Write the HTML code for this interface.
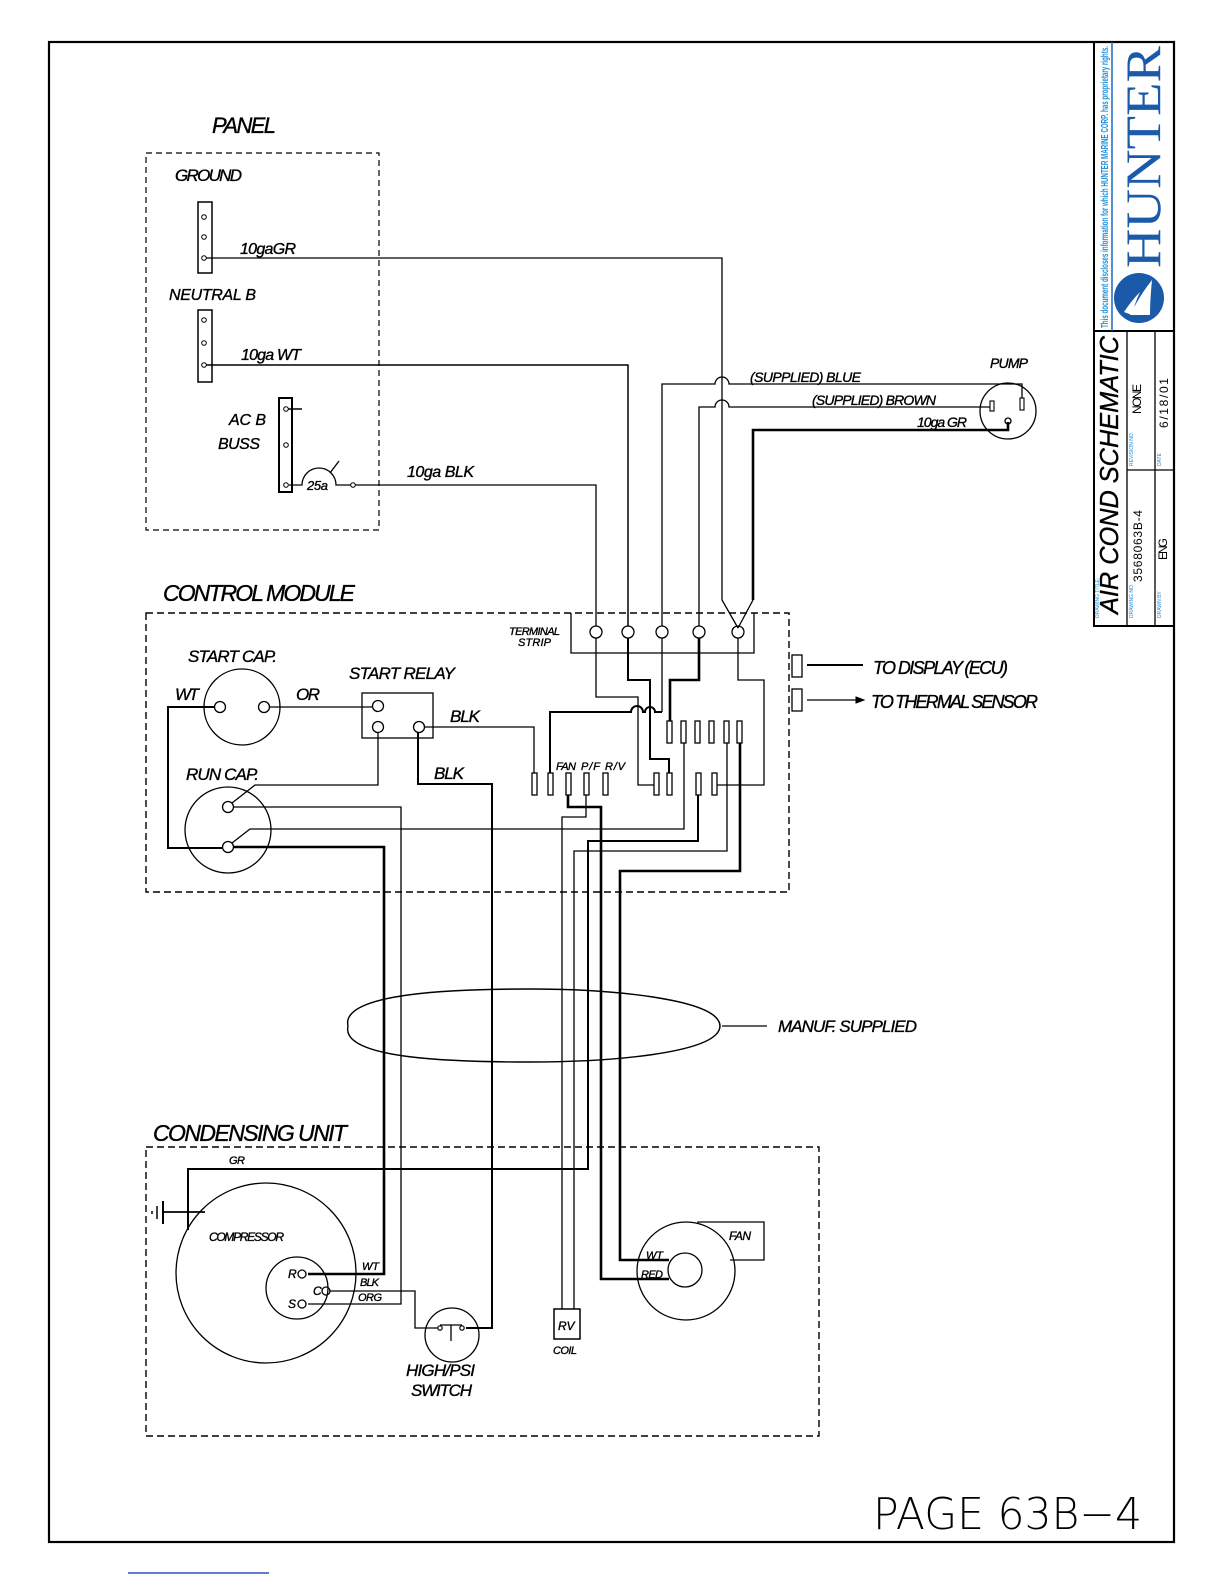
<!DOCTYPE html>
<html><head><meta charset="utf-8"><style>
html,body{margin:0;padding:0;background:#fff}
svg{display:block}
text{font-family:"Liberation Sans",sans-serif;font-style:italic;fill:#000;stroke:#000;stroke-width:0.35}
</style></head><body>
<svg width="1224" height="1584" viewBox="0 0 1224 1584" xmlns="http://www.w3.org/2000/svg">
<g fill="none" stroke="#000">
<rect x="49" y="42" width="1125" height="1500" stroke-width="2.2"/>
<rect x="146" y="153" width="233" height="377" stroke-width="1.2" stroke-dasharray="6,4"/>
<rect x="146" y="613" width="643" height="279" stroke-width="1.4" stroke-dasharray="7,4"/>
<rect x="146" y="1147" width="673" height="289" stroke-width="1.4" stroke-dasharray="7,4"/>

<rect x="198" y="202" width="14" height="71" stroke-width="1.5"/>
<circle cx="204" cy="217" r="2.3"/><circle cx="204" cy="237" r="2.3"/><circle cx="204" cy="258" r="2.3"/>
<rect x="198" y="310" width="14" height="72" stroke-width="1.5"/>
<circle cx="204" cy="320" r="2.3"/><circle cx="204" cy="343" r="2.3"/><circle cx="204" cy="365" r="2.3"/>
<rect x="279" y="398" width="13" height="94" stroke-width="2"/>
<circle cx="286" cy="409" r="2.3"/><circle cx="286" cy="445" r="2.3"/><circle cx="286" cy="485" r="2.3"/>
<line x1="288" y1="409" x2="302" y2="409" stroke-width="1.5"/>
<path d="M289 485 H302 A17 17 0 0 1 336 485 H351" stroke-width="1.3"/>
<line x1="330" y1="473" x2="339" y2="461" stroke-width="1.3"/>
<circle cx="353" cy="485" r="2.3"/>

<path d="M206 258 H722 V600 L738 628" stroke-width="1.3"/>
<path d="M206 365 H628 V626" stroke-width="1.5"/>
<path d="M355 485 H596 V626" stroke-width="1.3"/>
<path d="M662 626 V384 H715 A7 7 0 0 1 729 384 H1022 V398" stroke-width="1.3"/>
<path d="M699 626 V407 H715 A7 7 0 0 1 729 407 H990" stroke-width="1.3"/>
<path d="M753 600 V430 H1008 V422" stroke-width="2.6"/>
<line x1="753" y1="600" x2="738" y2="628" stroke-width="1.3"/>
<circle cx="1008" cy="411" r="28" stroke-width="1.3"/>
<rect x="990" y="401" width="4" height="10" stroke-width="1.1"/>
<rect x="1020" y="398" width="4" height="12" stroke-width="1.1"/>
<circle cx="1008" cy="421" r="3" stroke-width="1.3"/>

<path d="M571 613 V653 H754 V613" stroke-width="1.3"/>
<circle cx="596" cy="632" r="6" stroke-width="1.3"/>
<circle cx="628" cy="632" r="6" stroke-width="1.3"/>
<circle cx="662" cy="632" r="6" stroke-width="1.3"/>
<circle cx="699" cy="632" r="6" stroke-width="1.3"/>
<circle cx="738" cy="632" r="6" stroke-width="1.3"/>

<rect x="667" y="721" width="5" height="22" stroke-width="1.3"/>
<rect x="681" y="721" width="5" height="22" stroke-width="1.3"/>
<rect x="695" y="721" width="5" height="22" stroke-width="1.3"/>
<rect x="709" y="721" width="5" height="22" stroke-width="1.3"/>
<rect x="724" y="721" width="5" height="22" stroke-width="1.3"/>
<rect x="737" y="721" width="5" height="22" stroke-width="1.3"/>
<rect x="532" y="773" width="5" height="22" stroke-width="1.3"/>
<rect x="548" y="773" width="5" height="22" stroke-width="1.3"/>
<rect x="566" y="773" width="5" height="22" stroke-width="1.3"/>
<rect x="584" y="773" width="5" height="22" stroke-width="1.3"/>
<rect x="603" y="773" width="5" height="22" stroke-width="1.3"/>
<rect x="654" y="773" width="5" height="22" stroke-width="1.3"/>
<rect x="667" y="773" width="5" height="22" stroke-width="1.3"/>
<rect x="696" y="773" width="5" height="22" stroke-width="1.3"/>
<rect x="712" y="773" width="5" height="22" stroke-width="1.3"/>

<path d="M596 638 V697 H638 V785 H654" stroke-width="1.3"/>
<path d="M628 638 V680 H650 V759 H669 V773" stroke-width="2"/>
<path d="M662 638 V712" stroke-width="1.3"/>
<path d="M550 773 V712 H631 A5 5 0 0 1 643 712 H645 A5 5 0 0 1 655 712 H662" stroke-width="2"/>
<path d="M699 638 V680 H670 V721" stroke-width="2.6"/>
<path d="M738 638 V680 H764 V785 H717" stroke-width="1.3"/>

<circle cx="242" cy="707" r="38" stroke-width="1.3"/>
<circle cx="220" cy="707" r="5.5" stroke-width="1.3"/>
<circle cx="264" cy="707" r="5.5" stroke-width="1.3"/>
<rect x="362" y="693" width="71" height="45" stroke-width="1.3"/>
<circle cx="378" cy="706" r="5.5" stroke-width="1.3"/>
<circle cx="378" cy="727" r="5.5" stroke-width="1.3"/>
<circle cx="419" cy="727" r="5.5" stroke-width="1.3"/>
<circle cx="228" cy="830" r="43" stroke-width="1.3"/>
<circle cx="228" cy="807" r="5.5" stroke-width="1.3"/>
<circle cx="228" cy="847" r="5.5" stroke-width="1.3"/>

<path d="M270 707 H372" stroke-width="1.3"/>
<path d="M214 707 H168 V848 H222" stroke-width="2"/>
<path d="M424 727 H534 V773" stroke-width="1.3"/>
<path d="M418 732 V784 H492 V1328 H466" stroke-width="2"/>
<path d="M378 732 V785 H255 L232 803" stroke-width="1.3"/>
<path d="M234 807 H401 V1304 H308" stroke-width="1.3"/>
<path d="M234 847 H384 V1274 H308" stroke-width="2.6"/>
<path d="M232 843 L250 829 H684 V743" stroke-width="1.3"/>

<path d="M568 795 V807 H601 V1279 H669" stroke-width="2.6"/>
<path d="M586 795 V817 H562 V1309" stroke-width="1.3"/>
<path d="M698 795 V841 H588 V1169 H188 V1230" stroke-width="2"/>
<path d="M727 743 V851 H574 V1309" stroke-width="1.3"/>
<path d="M740 743 V871 H620 V1260 H669" stroke-width="2.6"/>

<rect x="792" y="655" width="10" height="22" stroke-width="1.3"/>
<rect x="792" y="689" width="10" height="22" stroke-width="1.3"/>
<line x1="807" y1="665" x2="863" y2="665" stroke-width="2"/>
<line x1="807" y1="700" x2="858" y2="700" stroke-width="1.3"/>
<path d="M856 697 L864 700 L856 703 Z" fill="#000"/>

<path d="M348 1026 C340 992 460 989 530 989 C620 989 705 1000 718 1020 Q722 1026 718 1032 C705 1052 620 1062 530 1062 C460 1062 340 1060 348 1026 Z" stroke-width="1.4"/>
<line x1="722" y1="1026" x2="767" y2="1026" stroke-width="1.3"/>

<circle cx="266" cy="1273" r="90" stroke-width="1.3"/>
<circle cx="297" cy="1288" r="31" stroke-width="1.3"/>
<circle cx="302" cy="1274" r="4" stroke-width="1.3"/>
<circle cx="326" cy="1291" r="4" stroke-width="1.3"/>
<circle cx="302" cy="1304" r="4" stroke-width="1.3"/>
<path d="M330 1291 H415 V1328 H438" stroke-width="1.3"/>
<line x1="163" y1="1212" x2="205" y2="1212" stroke-width="1.8"/>
<line x1="163" y1="1201" x2="163" y2="1224" stroke-width="2"/>
<line x1="157" y1="1206" x2="157" y2="1219" stroke-width="1.5"/>
<line x1="152" y1="1211" x2="152" y2="1214" stroke-width="1.5"/>
<circle cx="452" cy="1335" r="27" stroke-width="1.3"/>
<circle cx="440" cy="1328" r="2.2" stroke-width="1.2"/>
<circle cx="462" cy="1328" r="2.2" stroke-width="1.2"/>
<path d="M440 1325 H462 M451 1325 V1341" stroke-width="1.3"/>
<rect x="554" y="1309" width="26" height="30" stroke-width="1.5"/>
<circle cx="686" cy="1271" r="49" stroke-width="1.3"/>
<circle cx="685" cy="1270" r="17" stroke-width="1.3"/>
<path d="M698 1224 V1222 H764 V1260 H730" stroke-width="1.3"/>
</g>

<text x="212" y="133" font-size="22" textLength="64">PANEL</text>
<text x="175" y="181" font-size="17" textLength="67">GROUND</text>
<text x="240" y="254" font-size="16" textLength="56">10gaGR</text>
<text x="169" y="300" font-size="16" textLength="87">NEUTRAL B</text>
<text x="241" y="360" font-size="16" textLength="60">10ga WT</text>
<text x="229" y="425" font-size="16" textLength="37">AC B</text>
<text x="218" y="449" font-size="16" textLength="42">BUSS</text>
<text x="307" y="490" font-size="13" textLength="21">25a</text>
<text x="407" y="477" font-size="16" textLength="67">10ga BLK</text>

<text x="750" y="382" font-size="14" textLength="111">(SUPPLIED) BLUE</text>
<text x="812" y="405" font-size="14" textLength="124">(SUPPLIED) BROWN</text>
<text x="917" y="427" font-size="14" textLength="50">10ga GR</text>
<text x="990" y="368" font-size="14" textLength="38">PUMP</text>

<text x="163" y="601" font-size="23" textLength="192">CONTROL MODULE</text>
<text x="509" y="635" font-size="11" textLength="51">TERMINAL</text>
<text x="518" y="646" font-size="11" textLength="33">STRIP</text>
<text x="188" y="662" font-size="17" textLength="89">START CAP.</text>
<text x="175" y="700" font-size="17" textLength="24">WT</text>
<text x="296" y="700" font-size="17" textLength="24">OR</text>
<text x="349" y="679" font-size="17" textLength="106">START RELAY</text>
<text x="450" y="722" font-size="17" textLength="30">BLK</text>
<text x="186" y="780" font-size="17" textLength="73">RUN CAP.</text>
<text x="434" y="779" font-size="17" textLength="30">BLK</text>
<text x="556" y="770" font-size="11" textLength="20">FAN</text>
<text x="581" y="770" font-size="11" textLength="19">P/F</text>
<text x="605" y="770" font-size="11" textLength="20">R/V</text>
<text x="873" y="674" font-size="18" textLength="135">TO DISPLAY (ECU)</text>
<text x="871" y="708" font-size="18" textLength="167">TO THERMAL SENSOR</text>
<text x="778" y="1032" font-size="17" textLength="139">MANUF. SUPPLIED</text>

<text x="153" y="1141" font-size="23" textLength="194">CONDENSING UNIT</text>
<text x="229" y="1164" font-size="11" textLength="16">GR</text>
<text x="209" y="1241" font-size="12" textLength="75">COMPRESSOR</text>
<text x="288" y="1278" font-size="12">R</text>
<text x="313" y="1295" font-size="12">C</text>
<text x="288" y="1308" font-size="12">S</text>
<text x="362" y="1270" font-size="11" textLength="17">WT</text>
<text x="360" y="1286" font-size="11" textLength="19">BLK</text>
<text x="358" y="1301" font-size="11" textLength="24">ORG</text>
<text x="406" y="1376" font-size="17" textLength="69">HIGH/PSI</text>
<text x="411" y="1396" font-size="17" textLength="61">SWITCH</text>
<text x="558" y="1330" font-size="12">RV</text>
<text x="553" y="1354" font-size="11" textLength="24">COIL</text>
<text x="729" y="1240" font-size="12" textLength="22">FAN</text>
<text x="646" y="1259" font-size="11" textLength="17">WT</text>
<text x="641" y="1278" font-size="11" textLength="22">RED</text>

<text x="873" y="1529" font-size="44" style="font-family:'DejaVu Sans','Liberation Sans',sans-serif;font-style:normal;font-weight:200;stroke:none" textLength="269" lengthAdjust="spacingAndGlyphs">PAGE 63B−4</text>

<g fill="none" stroke="#000">
<rect x="1094" y="42" width="80" height="584" stroke-width="2"/>
<line x1="1094" y1="331" x2="1174" y2="331" stroke-width="2"/>
<line x1="1112" y1="42" x2="1112" y2="331" stroke-width="1.5" stroke="#1a6ab8"/>
<line x1="1127" y1="331" x2="1127" y2="626" stroke-width="1.3"/>
<line x1="1155" y1="331" x2="1155" y2="626" stroke-width="1.3"/>
<line x1="1127" y1="470" x2="1174" y2="470" stroke-width="1.3"/>
</g>
<text transform="translate(1108,328) rotate(-90)" font-size="10" style="font-style:normal;font-weight:bold;fill:#1e8fd8;stroke:none" textLength="282" lengthAdjust="spacingAndGlyphs">This document discloses information for which HUNTER MARINE CORP. has proprietary rights.</text>
<circle cx="1139" cy="298" r="25" fill="#1a5aa8"/>
<path d="M1130 315 Q1140 295 1152 280 Q1150 300 1150 315 Z M1124 312 Q1132 300 1140 292 Q1134 305 1132 315 Z" fill="#fff"/>
<text transform="translate(1160,268) rotate(-90)" font-size="50" style="font-family:'Liberation Serif',serif;font-style:normal;fill:#1a5aa8;stroke:none" textLength="222" lengthAdjust="spacingAndGlyphs">HUNTER</text>
<text transform="translate(1118,614) rotate(-90)" font-size="26" textLength="278" lengthAdjust="spacingAndGlyphs">AIR COND SCHEMATIC</text>
<text transform="translate(1142,582) rotate(-90)" font-size="12" style="font-style:normal;stroke:none" textLength="72">3568063B-4</text>
<text transform="translate(1141,414) rotate(-90)" font-size="12" style="font-style:normal;stroke:none" textLength="30">NONE</text>
<text transform="translate(1167,560) rotate(-90)" font-size="12" style="font-style:normal;stroke:none" textLength="22">ENG</text>
<text transform="translate(1168,428) rotate(-90)" font-size="12" style="font-style:normal;stroke:none" textLength="50">6/18/01</text>
<text transform="translate(1133,618) rotate(-90)" font-size="5" style="font-style:normal;fill:#1e8fd8;stroke:none">DRAWING NO.</text>
<text transform="translate(1133,466) rotate(-90)" font-size="5" style="font-style:normal;fill:#1e8fd8;stroke:none">REVISION NO.</text>
<text transform="translate(1161,618) rotate(-90)" font-size="5" style="font-style:normal;fill:#1e8fd8;stroke:none">DRAWN BY</text>
<text transform="translate(1161,466) rotate(-90)" font-size="5" style="font-style:normal;fill:#1e8fd8;stroke:none">DATE</text>
<text transform="translate(1099,618) rotate(-90)" font-size="5" style="font-style:normal;fill:#1e8fd8;stroke:none">DRAWING TITLE:</text>

<line x1="128" y1="1573" x2="269" y2="1573" stroke="#3050c0" stroke-width="1.5"/>
</svg>
</body></html>
